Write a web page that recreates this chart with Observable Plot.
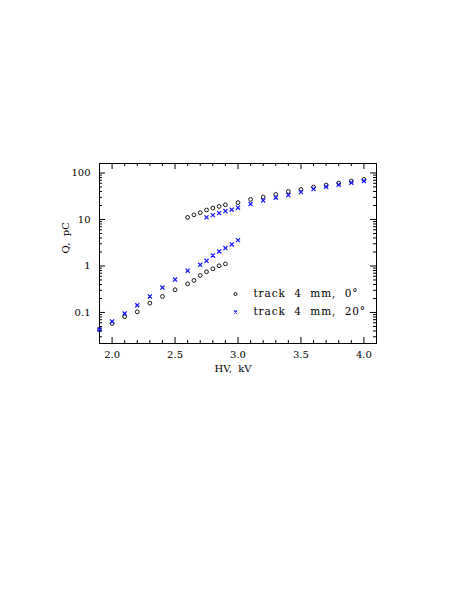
<!DOCTYPE html>
<html><head><meta charset="utf-8">
<script src="https://cdn.jsdelivr.net/npm/d3@7"></script>
<script src="https://cdn.jsdelivr.net/npm/@observablehq/plot@0.6"></script>
<style>body{margin:0;background:#fff}
.legend-text text{letter-spacing:0.9px}
</style>
</head><body><div id="chart"></div>
<script>
// track 4 mm, 0 deg (circles)
const hv0 = [1.9,2.0,2.1,2.2,2.3,2.4,2.5,2.6,2.65,2.7,2.75,2.8,2.85,2.9,
             2.6,2.65,2.7,2.75,2.8,2.85,2.9,3.0,3.1,3.2,3.3,3.4,3.5,3.6,3.7,3.8,3.9,4.0];
const q0  = [0.043,0.058,0.081,0.103,0.159,0.221,0.308,0.414,0.488,0.625,0.75,0.87,1.01,1.11,
             11.1,12.6,14.0,16.0,17.6,19.1,20.7,23.0,27.0,30.4,34.6,40.1,44.3,49.9,55.1,60.8,67.1,72.7];
// track 4 mm, 20 deg (crosses)
const hv20 = [1.9,2.0,2.1,2.2,2.3,2.4,2.5,2.6,2.7,2.75,2.8,2.85,2.9,2.95,3.0,
              2.75,2.8,2.85,2.9,2.95,3.0,3.1,3.2,3.3,3.4,3.5,3.6,3.7,3.8,3.9,4.0];
const q20  = [0.043,0.064,0.095,0.143,0.221,0.344,0.51,0.79,1.06,1.29,1.68,2.05,2.43,2.9,3.6,
              11.1,12.4,13.7,15.2,16.2,17.9,21.5,25.7,29.4,33.6,38.9,45.2,50.6,55.9,61.7,67.1];
const legendLabels = ["track  4  mm,  0°", "track  4  mm,  20°"];
const xMajor = [2.0,2.5,3.0,3.5,4.0];
const xMinor = [2.1,2.2,2.3,2.4,2.6,2.7,2.8,2.9,3.1,3.2,3.3,3.4,3.6,3.7,3.8,3.9];
const yMajor = [0.1,1,10,100];
const yMinor = [0.03,0.04,0.05,0.06,0.07,0.08,0.09,0.2,0.3,0.4,0.5,0.6,0.7,0.8,0.9,
                2,3,4,5,6,7,8,9,20,30,40,50,60,70,80,90];

const W = 463, Hh = 599;
const mt = 163, mb = 256, ml = 99, mr = 87;
const iH = Hh - mt - mb, iW = W - ml - mr;
const d0 = hv0.map((x, i) => ({x, y: q0[i]}));
const d20 = hv20.map((x, i) => ({x, y: q20[i]}));
const font = "DejaVu Serif";
const blue = "#1414ff";

const plot = Plot.plot({
  width: W, height: Hh,
  marginTop: mt, marginBottom: mb, marginLeft: ml, marginRight: mr,
  style: {fontFamily: font, fontSize: "10px", background: "#fff", color: "#000"},
  x: {type: "linear", domain: [1.9, 4.1]},
  y: {type: "log", domain: [0.0215, 160]},
  marks: [
    Plot.frame({stroke: "#000", strokeWidth: 1}),
    // inward ticks bottom/top
    Plot.ruleX(xMajor, {x: d => d, insetTop: iH - 6, stroke: "#000"}),
    Plot.ruleX(xMajor, {x: d => d, insetBottom: iH - 6, stroke: "#000"}),
    Plot.ruleX(xMinor, {x: d => d, insetTop: iH - 3, stroke: "#000"}),
    Plot.ruleX(xMinor, {x: d => d, insetBottom: iH - 3, stroke: "#000"}),
    // inward ticks left/right
    Plot.ruleY(yMajor, {y: d => d, insetRight: iW - 6, stroke: "#000"}),
    Plot.ruleY(yMajor, {y: d => d, insetLeft: iW - 6, stroke: "#000"}),
    Plot.ruleY(yMinor, {y: d => d, insetRight: iW - 3, stroke: "#000"}),
    Plot.ruleY(yMinor, {y: d => d, insetLeft: iW - 3, stroke: "#000"}),
    Plot.axisX({ticks: xMajor, tickSize: 0, tickPadding: 7, tickFormat: d => d.toFixed(1), label: null, fontSize: 10}),
    Plot.axisY({ticks: yMajor, tickSize: 0, tickPadding: 9, tickFormat: d => String(d), label: null, fontSize: 10}),
    Plot.text(["HV,  kV"], {text: d => d, frameAnchor: "bottom", dy: 25, dx: -5, lineAnchor: "middle", fontSize: 10}),
    Plot.text(["Q,  pC"], {text: d => d, frameAnchor: "left", dx: -34, rotate: -90, lineAnchor: "middle", fontSize: 10}),
    Plot.dot(d0, {x: "x", y: "y", r: 1.9, stroke: "#000", strokeWidth: 0.9, fill: "none"}),
    Plot.dot(d20, {x: "x", y: "y", r: 2.0, symbol: "times", stroke: blue, strokeWidth: 1.2}),
    // legend
    Plot.dot([legendLabels[0]], {frameAnchor: "top-left", dx: 136, dy: 130.5, r: 1.5, stroke: "#000", strokeWidth: 0.9, fill: "none"}),
    Plot.dot([legendLabels[1]], {frameAnchor: "top-left", dx: 136, dy: 148.5, r: 1.6, symbol: "times", stroke: blue, strokeWidth: 1.1}),
    Plot.text([legendLabels[0]], {text: d => d, frameAnchor: "top-left", dx: 154, dy: 130.5, textAnchor: "start", lineAnchor: "middle", fontSize: 10.5, className: "legend-text"}),
    Plot.text([legendLabels[1]], {text: d => d, frameAnchor: "top-left", dx: 154, dy: 148.5, textAnchor: "start", lineAnchor: "middle", fontSize: 10.5, className: "legend-text"})
  ]
});
document.getElementById("chart").appendChild(plot);
</script>
</body></html>
